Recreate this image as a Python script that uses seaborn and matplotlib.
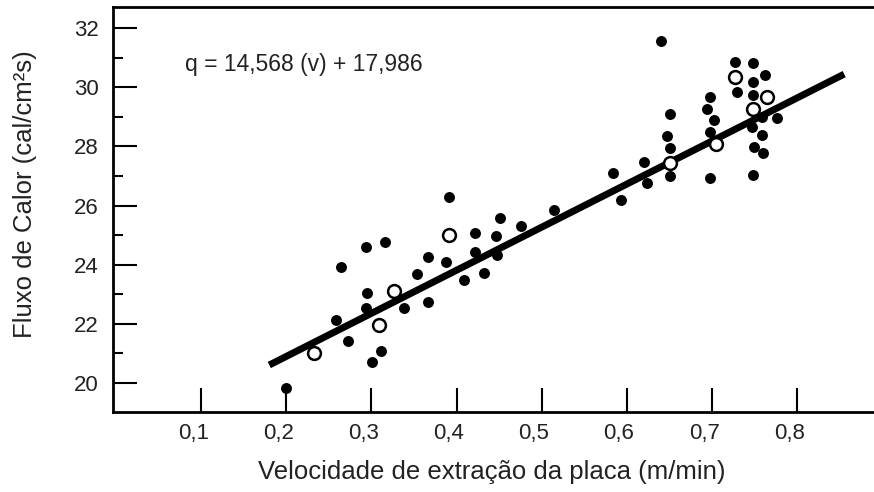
import matplotlib
matplotlib.use("Agg")
import matplotlib.pyplot as plt
import seaborn as sns
import numpy as np
import pandas as pd
from matplotlib.ticker import MultipleLocator, FixedLocator
from matplotlib.transforms import ScaledTranslation

# ---- data ----
filled_x = [0.200, 0.258, 0.264, 0.273, 0.293, 0.295, 0.293, 0.301, 0.311, 0.316,
            0.338, 0.354, 0.366, 0.366, 0.387, 0.391, 0.409, 0.422, 0.422, 0.432,
            0.446, 0.447, 0.451, 0.475, 0.514, 0.584, 0.593, 0.620, 0.623, 0.640,
            0.650, 0.647, 0.651, 0.651, 0.697, 0.694, 0.702, 0.697, 0.697, 0.727,
            0.729, 0.748, 0.762, 0.748, 0.748, 0.758, 0.776, 0.747, 0.758, 0.749,
            0.760, 0.748]
filled_y = [19.82, 22.13, 23.91, 21.43, 24.61, 23.05, 22.52, 20.72, 21.09, 24.76,
            22.52, 23.67, 24.27, 22.73, 24.10, 26.28, 23.48, 25.06, 24.44, 23.73,
            24.97, 24.33, 25.57, 25.32, 25.85, 27.09, 26.19, 27.48, 26.75, 31.57,
            29.09, 28.35, 27.93, 27.00, 29.66, 29.25, 28.89, 28.50, 26.92, 30.86,
            29.85, 30.83, 30.41, 30.19, 29.74, 29.00, 28.95, 28.67, 28.38, 27.99,
            27.79, 27.03]
open_x = [0.233, 0.309, 0.327, 0.391, 0.650, 0.705, 0.727, 0.764, 0.748]
open_y = [21.02, 21.96, 23.11, 25.00, 27.42, 28.08, 30.33, 29.66, 29.25]

slope = 14.568
intercept = 17.986
line_x = [0.18, 0.855]

x_ticks = [0.1, 0.2, 0.3, 0.4, 0.5, 0.6, 0.7, 0.8]
x_tick_labels = ["0,1", "0,2", "0,3", "0,4", "0,5", "0,6", "0,7", "0,8"]
y_ticks = [20, 22, 24, 26, 28, 30, 32]

equation = "q = 14,568 (v) + 17,986"
xlabel = "Velocidade de extração da placa (m/min)"
ylabel = "Fluxo de Calor (cal/cm²s)"

# ---- plot ----
sns.set_style("white", {"xtick.bottom": True, "ytick.left": True})
plt.rcParams["font.family"] = ["Liberation Sans", "DejaVu Sans"]
plt.rcParams.update({
    "xtick.direction": "in", "ytick.direction": "in",
    "xtick.major.size": 17, "ytick.major.size": 17,
    "xtick.major.width": 1.5, "ytick.major.width": 1.5,
    "ytick.minor.size": 7, "ytick.minor.width": 1.5,
    "ytick.minor.visible": True,
})

fig = plt.figure(figsize=(8.74, 4.92), dpi=100)
ax = fig.add_axes([113 / 874, 80 / 492, 1 - 113 / 874, 405 / 492])

df_f = pd.DataFrame({"v": filled_x, "q": filled_y})
df_o = pd.DataFrame({"v": open_x, "q": open_y})
df_l = pd.DataFrame({"v": line_x, "q": [slope * v + intercept for v in line_x]})

sns.lineplot(data=df_l, x="v", y="q", ax=ax, color="black", linewidth=5,
             solid_capstyle="butt", zorder=2)
sns.scatterplot(data=df_f, x="v", y="q", ax=ax, color="black", s=62,
                edgecolor="black", linewidth=0, zorder=3)
sns.scatterplot(data=df_o, x="v", y="q", ax=ax, color="white", s=85,
                edgecolor="black", linewidth=1.8, zorder=4)

ax.set_xlim(-0.0035, 0.890)
ax.set_ylim(19.02, 32.71)

ax.xaxis.set_major_locator(FixedLocator(x_ticks))
ax.set_xticklabels(x_tick_labels)
ax.yaxis.set_major_locator(FixedLocator(y_ticks))
ax.yaxis.set_minor_locator(FixedLocator([21, 23, 25, 27, 29, 31]))

ax.tick_params(axis="both", which="major", direction="in", length=17, width=1.5,
               colors="black", labelcolor="#222222", labelsize=16)
ax.tick_params(axis="x", which="major", bottom=True, top=False, pad=8)
ax.tick_params(axis="y", which="major", left=True, right=False, pad=10)
ax.tick_params(axis="y", which="minor", direction="in", length=7, width=1.5,
               left=True, right=False, color="black")
ax.tick_params(axis="x", which="minor", bottom=False, top=False)

offset = ScaledTranslation(-8 / 100, 0, fig.dpi_scale_trans)
for lab in ax.get_xticklabels():
    lab.set_transform(lab.get_transform() + offset)

for side in ["left", "top", "bottom"]:
    ax.spines[side].set_visible(True)
    ax.spines[side].set_color("black")
    ax.spines[side].set_linewidth(2)
ax.spines["right"].set_visible(False)

ax.set_xlabel(xlabel, fontsize=18.5, color="#222222")
ax.set_ylabel(ylabel, fontsize=18.5, color="#222222")
ax.xaxis.set_label_coords(0.498, -0.1185)
ax.yaxis.set_label_coords(-0.0999, 0.538)

ax.text(0.081, 30.75, equation, fontsize=16.5, color="#222222",
        ha="left", va="center")

fig.savefig("out.png", dpi=100)
